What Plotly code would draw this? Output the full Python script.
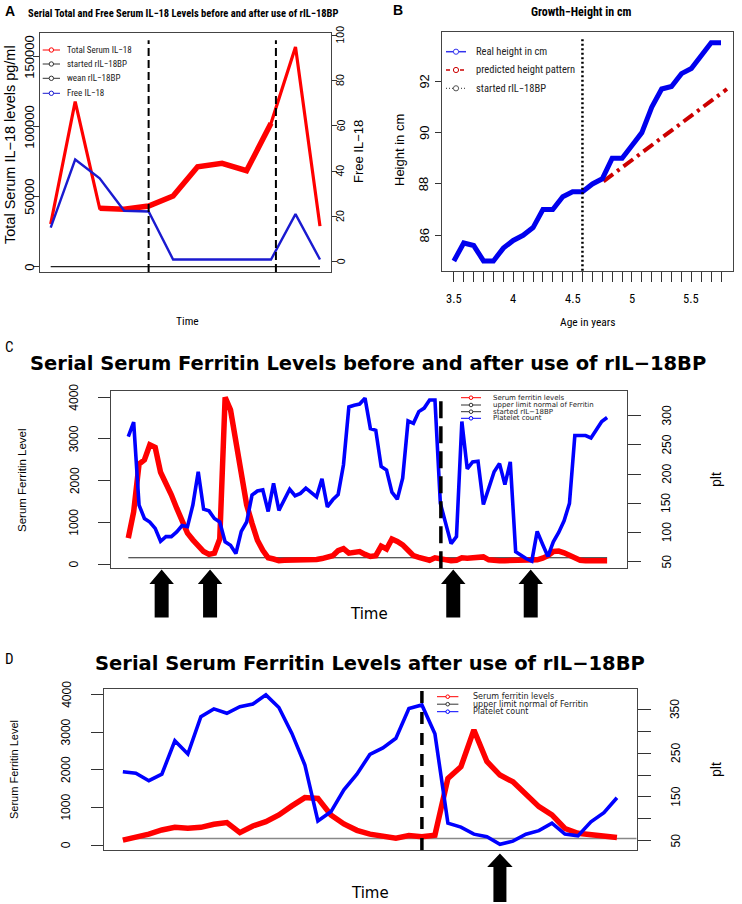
import plotly.graph_objects as go

W, H = 742, 904

# ---------------- Panel A data ----------------
a_time = [1, 2, 3, 4, 5, 6, 7, 8, 9, 10, 11, 12]
a_total_il18 = [30500, 118000, 41700, 41000, 43300, 50500, 71400, 73800, 68600, 102400, 157000, 29000]
a_free_il18 = [15.1, 45.1, 36.8, 22.5, 22.2, 1.0, 1.0, 1.0, 1.0, 1.0, 21.0, 1.0]
a_started = 5
a_wean = 10.2
a_left_ticks = [0, 50000, 100000, 150000]
a_right_ticks = [0, 20, 40, 60, 80, 100]
a_legend_labels = ["Total Serum IL−18", "started rIL−18BP", "wean rIL−18BP", "Free IL−18"]

# ---------------- Panel B data ----------------
b_age = [3.5, 3.583, 3.667, 3.75, 3.833, 3.917, 4.0, 4.083, 4.167, 4.25, 4.333, 4.417, 4.5, 4.583,
         4.667, 4.75, 4.833, 4.917, 5.0, 5.083, 5.167, 5.25, 5.333, 5.417, 5.5, 5.583, 5.667, 5.75]
b_height = [85.0, 85.7, 85.6, 85.0, 85.0, 85.5, 85.8, 86.0, 86.3, 87.0, 87.0, 87.5, 87.7, 87.7,
            88.0, 88.2, 89.0, 89.0, 89.5, 90.0, 91.0, 91.7, 91.8, 92.3, 92.5, 93.0, 93.5, 93.5]
b_pred_age = [4.76, 5.8]
b_pred_height = [88.1, 91.7]
b_started = 4.583
b_xtick_labels = {3.5: "3.5", 4.0: "4", 4.5: "4.5", 5.0: "5", 5.5: "5.5"}
b_yticks = [86, 88, 90, 92]
b_legend_labels = ["Real height in cm", "predicted height pattern", "started rIL−18BP"]

# ---------------- Panel C data ----------------
c_ferritin = [620, 1250, 2400, 2500, 2860, 2800, 2200, 1940, 1660, 1340,
              1020, 740, 580, 460, 300, 230, 260, 600, 4000, 3700,
              2950, 2100, 1420, 975, 570, 330, 150, 120, 80, 90,
              90, 110, 100, 90, 80, 110, 130, 150, 200, 320,
              370, 260, 270, 300, 230, 180, 200, 430, 360, 600,
              540, 460, 330, 200, 160, 130, 90, 150, 120, 90,
              80, 90, 150, 140, 140, 150, 170, 100, 80, 80,
              80, 80, 75, 70, 70, 90, 100, 140, 200, 300,
              310, 270, 220, 160, 90, 80, 80, 80, 90, 80]
c_platelet = [264, 289, 147, 124, 118, 107, 85, 93, 93, 101,
              112, 110, 147, 204, 140, 137, 124, 118, 84, 78,
              64, 102, 118, 164, 171, 173, 136, 184, 138, 156,
              174, 163, 167, 176, 169, 161, 192, 144, 156, 165,
              216, 315, 318, 320, 330, 278, 275, 213, 207, 169,
              157, 193, 291, 287, 307, 313, 327, 327, 150, 117,
              81, 93, 290, 209, 221, 222, 148, 176, 204, 218,
              182, 221, 67, 61, 55, 51, 102, 80, 59, 84,
              100, 120, 150, 266, 266, 266, 262, 277, 290, 297]
c_time = list(range(len(c_ferritin)))
c_ferritin_uln = 150
c_started = 58.1
c_arrows = [6.2, 15.2, 60.4, 74.8]
c_left_ticks = [0, 1000, 2000, 3000, 4000]
c_right_ticks = [50, 100, 150, 200, 250, 300]
c_legend_labels = ["Serum ferritin levels", "upper limit normal of Ferritin", "started rIL−18BP", "Platelet count"]

# ---------------- Panel D data ----------------
d_ferritin = [130, 200, 290, 400, 470, 445, 470, 550, 595, 330, 505, 620, 800, 1040, 1260, 1240,
              800, 560, 390, 290, 240, 180, 250, 220, 260, 1770, 2080, 3060, 2220, 1860, 1680,
              1370, 1020, 800, 440, 310, 266, 240, 200]
d_platelet = [207.5, 204, 187, 202, 278, 248, 333, 351, 341, 356, 362, 383, 354, 295, 223, 95,
              116, 166, 202, 247, 262, 284, 352, 360, 294, 90, 81, 65, 59, 42, 49,
              65, 73, 90, 65, 61, 93, 114, 148]
d_time = list(range(len(d_ferritin)))
d_ferritin_uln = 170
d_started = 23
d_arrows = [29]
d_left_ticks = [0, 1000, 2000, 3000, 4000]
d_right_ticks = [50, 100, 150, 200, 250, 300, 350]
d_right_labels = ["50", "", "150", "", "250", "", "350"]
d_legend_labels = ["Serum ferritin levels", "upper limit normal of Ferritin", "Platelet count"]

# ---------------- styling ----------------
RED = "#ff0000"
BLUE = "#0000ff"
A_BLUE = "#1a1ad0"
B_BLUE = "#0000ee"
B_RED = "#cc0000"
BOX = "#444444"
NARROW = "Roboto Condensed, Liberation Sans Narrow, Liberation Sans, sans-serif"
ARIAL = "Liberation Sans, Arial, Helvetica, sans-serif"
WIDE = "DejaVu Sans, Verdana, sans-serif"


def px(x):
    return x / W


def py(y):
    return 1 - y / H


A_BOX = (40, 331, 33, 272)
B_BOX = (442, 733, 32.3, 270.7)
C_BOX = (110.7, 626.7, 391, 568.3)
D_BOX = (104, 636.7, 689.3, 850)
a_xrange = [0.563, 12.45]
a_yrange = [-3786, 166929]
a_y2range = [-4.5, 100.9]
b_xrange = [3.40, 5.851]
b_yrange = [84.62, 93.91]
c_xrange = [-3.27, 92.64]
c_yrange = [-103, 4151]
c_y2range = [38.7, 342.3]
d_xrange = [-1.45, 39.52]
d_yrange = [-133, 4141]
d_y2range = [28.8, 395.7]


def dom_x(box):
    return [px(box[0]), px(box[1])]


def dom_y(box):
    return [py(box[3]), py(box[2])]


fig = go.Figure()


def line_trace(x, y, xa, ya, color, width, dash=None):
    fig.add_trace(go.Scatter(x=x, y=y, mode="lines", xaxis=xa, yaxis=ya,
                             line=dict(color=color, width=width, dash=dash),
                             showlegend=False, hoverinfo="skip"))


# ---- Panel A ----
line_trace([a_time[0], a_time[-1]], [0, 0], "x", "y", "#222222", 1.3)
line_trace(a_time, a_total_il18, "x", "y", RED, 3.2)
line_trace(a_time[2:10], a_total_il18[2:10], "x", "y", RED, 5.5)
line_trace(a_time, a_free_il18, "x", "y2", A_BLUE, 2.4)

# ---- Panel B ----
line_trace(b_pred_age, b_pred_height, "x2", "y3", B_RED, 4, "12px,5px,3px,5px")
line_trace(b_age, b_height, "x2", "y3", B_BLUE, 5)

# ---- Panel C ----
line_trace([c_time[0], c_time[-1]], [c_ferritin_uln, c_ferritin_uln], "x3", "y4", "#222222", 1.2)
line_trace(c_time, c_ferritin, "x3", "y4", RED, 5.5)
line_trace(c_time, c_platelet, "x3", "y5", BLUE, 3.6)

# ---- Panel D ----
line_trace([d_time[0], d_xrange[1]], [d_ferritin_uln, d_ferritin_uln], "x4", "y6", "#888888", 1.5)
line_trace(d_time, d_ferritin, "x4", "y6", RED, 5.5)
line_trace(d_time, d_platelet, "x4", "y7", BLUE, 3.6)

shapes = []
annotations = []

for xv in (a_started, a_wean):
    shapes.append(dict(type="line", xref="x", yref="y domain", x0=xv, x1=xv, y0=0, y1=0.97,
                       line=dict(color="black", width=2, dash="8px,4px")))
shapes.append(dict(type="line", xref="x2", yref="y3 domain", x0=b_started, x1=b_started, y0=0, y1=0.975,
                   line=dict(color="black", width=2.5, dash="2px,2.5px")))
shapes.append(dict(type="line", xref="x3", yref="y4 domain", x0=c_started, x1=c_started, y0=0, y1=0.968,
                   line=dict(color="black", width=3.5, dash="17px,8px")))
shapes.append(dict(type="line", xref="x4", yref="y6 domain", x0=d_started, x1=d_started, y0=0, y1=1,
                   line=dict(color="black", width=3.5, dash="12px,9px")))


def add_arrows(positions, xref, box, xrange, y_tip, y_head, y_bot, head_w=24.5, shaft_w=14):
    unit = (box[1] - box[0]) / (xrange[1] - xrange[0])
    hw = head_w / 2 / unit
    sw = shaft_w / 2 / unit
    for xa in positions:
        pts = [(xa, y_tip), (xa + hw, y_head), (xa + sw, y_head), (xa + sw, y_bot),
               (xa - sw, y_bot), (xa - sw, y_head), (xa - hw, y_head)]
        path = "M " + " L ".join(f"{p[0]:.4f},{py(p[1]):.5f}" for p in pts) + " Z"
        shapes.append(dict(type="path", xref=xref, yref="paper", path=path,
                           fillcolor="black", line=dict(width=0)))


add_arrows(c_arrows, "x3", C_BOX, c_xrange, 569.5, 584, 617.5)
add_arrows(d_arrows, "x4", D_BOX, d_xrange, 853.5, 867, 902, head_w=25.5, shaft_w=13)


def add_legend(labels, colors, dashes, widths, x0, x1, xt, ys, size, family, r=2.2):
    for lab, col, dsh, lw, yy in zip(labels, colors, dashes, widths, ys):
        shapes.append(dict(type="line", xref="paper", yref="paper", x0=px(x0), x1=px(x1),
                           y0=py(yy), y1=py(yy), line=dict(color=col, width=lw, dash=dsh)))
        shapes.append(dict(type="circle", xref="paper", yref="paper", xsizemode="pixel",
                           ysizemode="pixel", xanchor=px((x0 + x1) / 2), yanchor=py(yy),
                           x0=-r, x1=r, y0=-r, y1=r, fillcolor="white",
                           line=dict(color=col, width=1)))
        annotations.append(dict(text=lab, x=px(xt), y=py(yy), xref="paper", yref="paper",
                                xanchor="left", yanchor="middle", showarrow=False,
                                font=dict(family=family, size=size, color="#222222")))


add_legend(a_legend_labels, [RED, "#333333", "#333333", A_BLUE], [None] * 4, [1] * 4,
           42.7, 60, 65, [50, 64, 78.3, 93.3], 9, NARROW)
add_legend(b_legend_labels, ["#3333ee", B_RED, "#555555"], [None, "4px,3px", "1px,2px"], [1.5, 1.5, 1.2],
           446, 466, 474, [51.7, 70, 88.3], 10.5, NARROW, r=2.6)
add_legend(c_legend_labels, [RED, "#333333", "#333333", BLUE], [None] * 4, [1] * 4,
           461, 481, 491, [397.7, 405, 411.7, 418.3], 7, WIDE, r=1.8)
add_legend(d_legend_labels, [RED, "#333333", BLUE], [None] * 3, [1] * 3,
           437, 458.4, 471, [696.7, 704.2, 711.7], 8, WIDE, r=1.8)


def text(t, x, y, size, family, angle=0, anchor="center", bold=False):
    annotations.append(dict(text=(f"<b>{t}</b>" if bold else t), x=px(x), y=py(y),
                            xref="paper", yref="paper", xanchor=anchor, yanchor="middle",
                            showarrow=False, textangle=angle,
                            font=dict(family=family, size=size, color="black")))


def ytick_text(values, labels, yref, x_px, size, family=ARIAL):
    for v, lab in zip(values, labels):
        if lab:
            annotations.append(dict(text=lab, x=px(x_px), y=v, xref="paper", yref=yref,
                                    xanchor="center", yanchor="middle", showarrow=False,
                                    textangle=-90, font=dict(family=family, size=size, color="black")))


def xtick_text(values, labels, xref, y_px, size, family):
    for v, lab in zip(values, labels):
        if lab:
            annotations.append(dict(text=lab, x=v, y=py(y_px), xref=xref, yref="paper",
                                    xanchor="center", yanchor="middle", showarrow=False,
                                    font=dict(family=family, size=size, color="black")))


# tick labels (R style, rotated on the y axes)
ytick_text(a_left_ticks, [str(v) for v in a_left_ticks], "y", 30, 13)
ytick_text(a_right_ticks, [str(v) for v in a_right_ticks], "y2", 340.5, 10.5)
ytick_text(b_yticks, [str(v) for v in b_yticks], "y3", 424.3, 13)
xtick_text(b_age, [b_xtick_labels.get(a, "") for a in b_age], "x2", 298.3, 12.5, NARROW)
ytick_text(c_left_ticks, [str(v) for v in c_left_ticks], "y4", 74.4, 12)
ytick_text(c_right_ticks, [str(v) for v in c_right_ticks], "y5", 666.7, 12)
ytick_text(d_left_ticks, [str(v) for v in d_left_ticks], "y6", 66.2, 12)
ytick_text(d_right_ticks, d_right_labels, "y7", 675.8, 12)

# panel letters, titles and axis titles
text("A", 3, 11, 14, ARIAL, anchor="left", bold=True)
text("Serial Total and Free Serum IL−18 Levels before and after use of rIL−18BP", 182.5, 13, 10.5, NARROW, bold=True)
text("Total Serum IL−18 levels pg/ml", 10, 145, 14.5, ARIAL, angle=-90)
text("Free IL−18", 358, 152, 13, ARIAL, angle=-90)
text("Time", 187, 321, 11.5, NARROW)

text("B", 391, 10, 14, ARIAL, anchor="left", bold=True)
text("Growth−Height in cm", 581, 12, 12, NARROW, bold=True)
text("Height in cm", 400, 150, 13, ARIAL, angle=-90)
text("Age in years", 588, 322, 11.5, NARROW)

text("C", 3, 347, 15, NARROW, anchor="left")
text("Serial Serum Ferritin Levels before and after use of rIL−18BP", 368, 363, 19.5, WIDE, bold=True)
text("Serum Ferritin Level", 22, 480, 11.5, ARIAL, angle=-90)
text("plt", 716, 480, 14, ARIAL, angle=-90)
text("Time", 369, 614, 15, WIDE)

text("D", 3, 659, 15, NARROW, anchor="left")
text("Serial Serum Ferritin Levels after use of rIL−18BP", 370, 663, 19.5, WIDE, bold=True)
text("Serum Ferritin Level", 14, 770, 11, ARIAL, angle=-90)
text("plt", 716, 770, 14, ARIAL, angle=-90)
text("Time", 370, 893, 15, WIDE)

base = dict(showgrid=False, zeroline=False, showline=True, linecolor=BOX, linewidth=1, mirror=True,
            ticks="outside", tickcolor="#333333", tickwidth=1, fixedrange=True, showticklabels=False)
noxt = dict(ticks="")
ov = dict(showgrid=False, zeroline=False, showline=False, ticks="outside", tickcolor="#333333",
          tickwidth=1, side="right", fixedrange=True, showticklabels=False)

fig.update_layout(
    width=W, height=H, margin=dict(l=0, r=0, t=0, b=0),
    paper_bgcolor="white", plot_bgcolor="white", showlegend=False,
    xaxis=dict(base, **noxt, domain=dom_x(A_BOX), range=a_xrange, anchor="y"),
    yaxis=dict(base, domain=dom_y(A_BOX), range=a_yrange, anchor="x", tickvals=a_left_ticks, ticklen=6),
    yaxis2=dict(ov, overlaying="y", anchor="x", range=a_y2range, tickvals=a_right_ticks, ticklen=5),
    xaxis2=dict(base, domain=dom_x(B_BOX), range=b_xrange, anchor="y3", tickvals=b_age, ticklen=10),
    yaxis3=dict(base, domain=dom_y(B_BOX), range=b_yrange, anchor="x2", tickvals=b_yticks, ticklen=6),
    xaxis3=dict(base, **noxt, domain=dom_x(C_BOX), range=c_xrange, anchor="y4"),
    yaxis4=dict(base, domain=dom_y(C_BOX), range=c_yrange, anchor="x3", tickvals=c_left_ticks, ticklen=12),
    yaxis5=dict(ov, overlaying="y4", anchor="x3", range=c_y2range, tickvals=c_right_ticks, ticklen=13),
    xaxis4=dict(base, **noxt, domain=dom_x(D_BOX), range=d_xrange, anchor="y6"),
    yaxis6=dict(base, domain=dom_y(D_BOX), range=d_yrange, anchor="x4", tickvals=d_left_ticks, ticklen=12),
    yaxis7=dict(ov, overlaying="y6", anchor="x4", range=d_y2range, tickvals=d_right_ticks, ticklen=13),
    shapes=shapes, annotations=annotations,
)

# remove the browser's default 8px page margin so the figure starts at the window corner
fig.write_html("out.html", config={"displayModeBar": False, "staticPlot": True},
               post_script="document.body.style.margin='0';document.body.style.padding='0';")
